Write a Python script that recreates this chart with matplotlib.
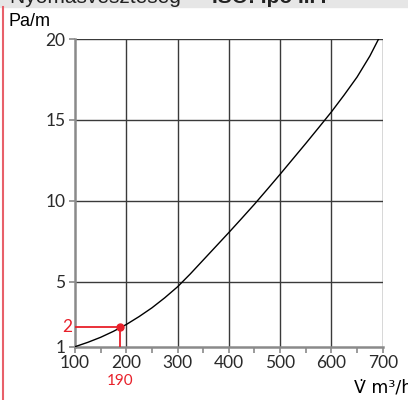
import numpy as np
import matplotlib
matplotlib.use("Agg")
import matplotlib.pyplot as plt
from matplotlib.patches import Rectangle
from matplotlib.lines import Line2D
from matplotlib.transforms import offset_copy

# Data
flow = [100, 125, 150, 175, 200, 225, 250, 275, 300, 325, 350, 375, 400, 425, 450,
        475, 500, 525, 550, 575, 600, 625, 650, 675, 692]
pressure = [1.0, 1.27, 1.58, 1.95, 2.37, 2.86, 3.4, 4.02, 4.7, 5.5, 6.35, 7.2, 8.05,
            8.92, 9.8, 10.72, 11.65, 12.6, 13.55, 14.52, 15.5, 16.55, 17.65, 18.95, 20.0]
x_ticks = [100, 200, 300, 400, 500, 600, 700]
y_ticks = [1, 5, 10, 15, 20]
op_x, op_y = 188, 2.2
op_x_label, op_y_label = "190", "2"

fig = plt.figure(figsize=(4.08, 4.0), dpi=100)
ax = fig.add_axes([75/408, 53.3/400, 307.7/408, 307.7/400])

grid_c = "#3a3a3a"
spine_c = "#8a8a8a"
red = "#e8202a"
tick_font = dict(family="Lato", size=12.5, color="#2a2a2a")

ax.set_xlim(100, 700)
ax.set_ylim(1, 20)
for x in x_ticks[1:]:
    ax.axvline(x, color=grid_c, lw=1.0, zorder=1)
for y in y_ticks[1:]:
    ax.axhline(y, color=grid_c, lw=1.0, zorder=1)

ax.plot(flow, pressure, color="black", lw=1.0, zorder=3,
        solid_joinstyle="round", antialiased=True)

# operating point
ax.plot([100, op_x], [op_y, op_y], color=red, lw=1.3, zorder=4)
ax.plot([op_x, op_x], [1, op_y], color=red, lw=1.3, zorder=4)
ax.plot([op_x], [op_y], "o", color=red, ms=5, zorder=5)

for s in ["top", "right"]:
    ax.spines[s].set_visible(False)
for s in ["left", "bottom"]:
    ax.spines[s].set_color(spine_c)
    ax.spines[s].set_linewidth(1.8)

ax.set_xticks(x_ticks)
ax.set_xticks(np.arange(150, 700, 100), minor=True)
ax.set_yticks(y_ticks)
ax.tick_params(axis="both", which="both", direction="out", color=spine_c, width=1.2, length=4)
ax.set_xticklabels([str(v) for v in x_ticks], fontdict=tick_font)
ax.set_yticklabels([str(v) for v in y_ticks], fontdict=tick_font)
ax.tick_params(axis="x", pad=2)
ax.tick_params(axis="y", pad=3)

tr = offset_copy(ax.get_xaxis_transform(), fig=fig, x=0, y=-34, units="dots")
ax.text(op_x, 0, op_x_label, color=red, fontsize=11, ha="center", va="center",
        transform=tr, family="Lato")
ax.text(94, op_y, op_y_label, color=red, fontsize=12.5, ha="right", va="center",
        family="Lato")

# axis titles
fig.text(8/408, 1 - 22/400, "Pa/m", fontsize=13, family="Liberation Sans", va="center", ha="left")
fig.text(354/408, 1 - 388/400, "V\u0307 m\u00b3/h", fontsize=12.5, family="DejaVu Sans",
         va="center", ha="left")

# header band (cropped at the top of the image)
fig.patches.append(Rectangle((0, 1 - 7/400), 1, 7/400, transform=fig.transFigure,
                             color="#e6e6e6", zorder=0))
fig.text(10/408, 1 - 3/400, "Nyomásveszteség \u2013", fontsize=15, family="Liberation Sans",
         va="baseline", ha="left", color="#222222")
fig.text(212/408, 1 - 3/400, "ISO: Ipo I.P.", fontsize=15, family="Liberation Sans",
         weight="bold", va="baseline", ha="left", color="#222222")
fig.lines.append(Line2D([2.5/408, 2.5/408], [0, 1 - 7/400], transform=fig.transFigure,
                        color="#e8606a", lw=1.5))

fig.savefig("out.png", dpi=100)
